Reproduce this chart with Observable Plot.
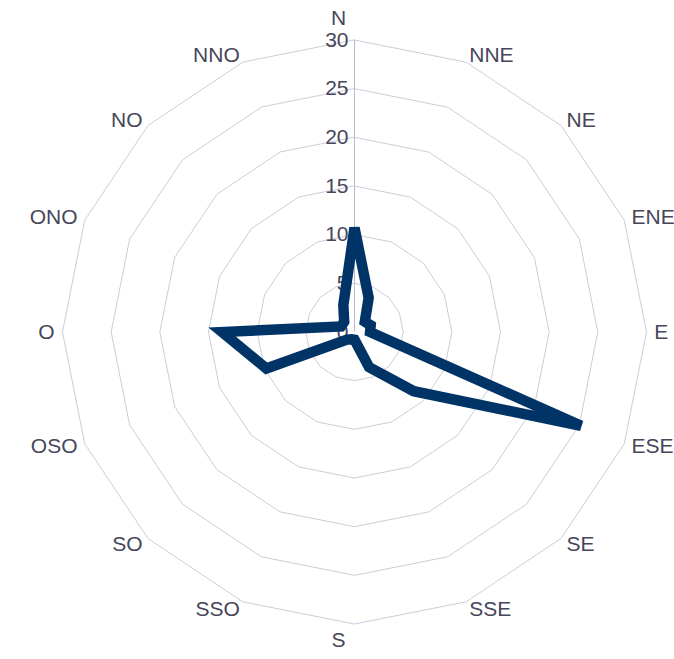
<!DOCTYPE html>
<html>
<head>
<meta charset="utf-8">
<script src="https://cdn.jsdelivr.net/npm/d3@7"></script>
<script src="https://cdn.jsdelivr.net/npm/@observablehq/plot@0.6"></script>
<style>
  html, body { margin: 0; padding: 0; background: #fff; }
  #chart svg { display: block; }
</style>
</head>
<body>
<div id="chart"></div>
<script>
// Directions, clockwise from north
const directions = ["N","NNE","NE","ENE","E","ESE","SE","SSE","S","SSO","SO","OSO","O","ONO","NO","NNO"];
// Values per direction
const values = [10.7, 3.8, 1.5, 1.8, 1.6, 25.2, 8.6, 3.9, 0.8, 0.8, 1.1, 9.8, 13.6, 1.5, 1.5, 3.0];
// Radial tick values
const radialTicks = [0, 5, 10, 15, 20, 25, 30];
const rMax = 30;

const n = directions.length;
const ang = i => (i * 2 * Math.PI) / n;
const px = (r, i) => r * Math.sin(ang(i));
const py = (r, i) => r * Math.cos(ang(i));

const series = values.map((v, i) => ({dir: directions[i], x: px(v, i), y: py(v, i)}));

const rings = [];
for (const t of radialTicks.filter(t => t > 0)) {
  for (let i = 0; i < n; i++) rings.push({ring: t, x: px(t, i), y: py(t, i)});
}

const labelR = rMax + 0.8;
const dirLabels = directions.map((d, i) => {
  const s = Math.sin(ang(i)), c = Math.cos(ang(i));
  return {
    text: d,
    x: px(labelR, i),
    y: py(labelR, i),
    anchor: s > 0.01 ? "start" : s < -0.01 ? "end" : "middle",
    line: c > 0.99 ? "bottom" : c < -0.99 ? "top" : "middle"
  };
});

const textColor = "#46465a";
const font = "'Liberation Sans', Arial, sans-serif";

const chart = Plot.plot({
  width: 674,
  height: 659,
  margin: 0,
  x: {domain: [-rMax, rMax], range: [62, 646], axis: null},
  y: {domain: [-rMax, rMax], range: [623.5, 39.5], axis: null},
  style: {fontFamily: font, background: "#fff"},
  marks: [
    Plot.line(rings, {x: "x", y: "y", z: "ring", curve: "linear-closed", stroke: "#cdcddc", strokeWidth: 1}),
    Plot.ruleX([0], {y1: 0, y2: rMax, stroke: "#b9b9cc", strokeWidth: 1}),
    Plot.text(radialTicks, {x: 0, y: d => d, text: d => String(d), textAnchor: "end", dx: -6, fontSize: 21, fill: textColor}),
    Plot.line(series, {x: "x", y: "y", curve: "linear-closed", stroke: "#003366", strokeWidth: 10.5, strokeLinejoin: "miter", strokeMiterlimit: 4}),
    ...["start", "end", "middle"].flatMap(a => ["top", "middle", "bottom"].map(l =>
      Plot.text(dirLabels.filter(d => d.anchor === a && d.line === l), {
        x: "x", y: "y", text: "text", textAnchor: a, lineAnchor: l, fontSize: 21, fill: textColor,
        dx: a === "middle" ? -16 : 0,
        dy: l === "bottom" ? -7 : 0
      })
    ))
  ]
});
document.getElementById("chart").appendChild(chart);
</script>
</body>
</html>
